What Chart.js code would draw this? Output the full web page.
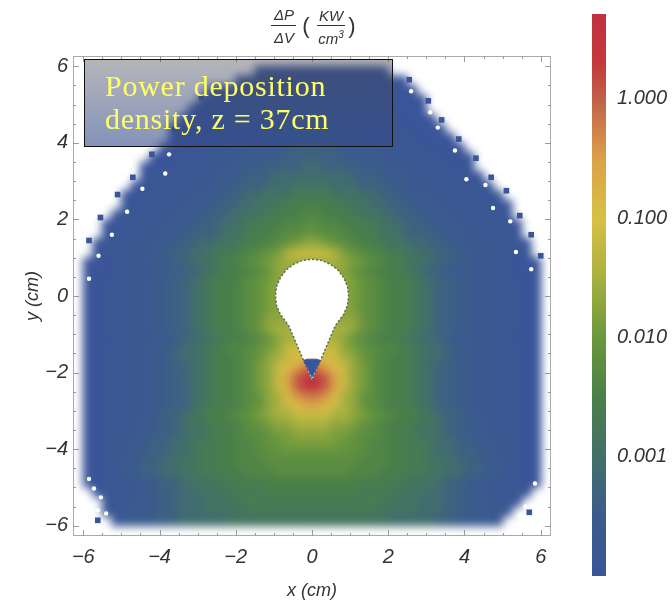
<!DOCTYPE html>
<html lang="en">
<head>
    <meta charset="UTF-8">
    <title>Power deposition density</title>
    <script src="https://cdn.jsdelivr.net/npm/chart.js@4.4.0/dist/chart.umd.min.js"></script>
    <style>
        body { margin: 0; background: #fff; width: 672px; height: 602px; overflow: hidden; position: relative; font-family: "Liberation Sans", Arial, sans-serif; color: #333; }
        canvas { position: absolute; }
        #heat { left: 73px; top: 56px; filter: blur(4px); } /* cells are 0.25 cm, soften them like the source image */
        #axes { left: 0; top: 0; }
        #bar { left: 560px; top: 0; }
        #note {
            position: absolute; left: 84px; top: 59px; width: 307px; height: 86px; border: 1px solid #111;
            background: linear-gradient(180deg, rgba(70,70,80,.4), rgba(50,75,140,.6));
            color: #ffff66; font-family: "Liberation Serif", serif; font-size: 30px; line-height: 33px; letter-spacing: .75px;
        }
        #note div { position: absolute; left: 20px; white-space: nowrap; }
        .t { position: absolute; font-style: italic; font-size: 15px; white-space: nowrap; transform: translate(-50%, -50%); }
        .r { position: absolute; height: 1px; background: #333; }
    </style>
</head>
<body>
    <canvas id="heat" width="478" height="480"></canvas>
    <canvas id="axes" width="672" height="602"></canvas>
    <canvas id="bar" width="112" height="602"></canvas>

    <div id="note"><div style="top:9px">Power deposition</div><div style="top:42px">density, z = 37cm</div></div>

    <!-- colour bar title -->
    <span class="t" style="left:284px;top:14px">ΔP</span>
    <div class="r" style="left:271px;top:25px;width:25px"></div>
    <span class="t" style="left:284px;top:37px">ΔV</span>
    <span class="t" style="left:306px;top:26px;font-size:22px;font-style:normal;font-weight:300">(</span>
    <span class="t" style="left:331px;top:15px">KW</span>
    <div class="r" style="left:317px;top:25px;width:28px"></div>
    <span class="t" style="left:331px;top:38px">cm<sup style="font-size:10px;line-height:0">3</sup></span>
    <span class="t" style="left:352px;top:26px;font-size:22px;font-style:normal;font-weight:300">)</span>

    <script>
        // Grid cell centres in cm
        const xCenters = [-5.875,-5.625,-5.375,-5.125,-4.875,-4.625,-4.375,-4.125,-3.875,-3.625,-3.375,-3.125,-2.875,-2.625,-2.375,-2.125,-1.875,-1.625,-1.375,-1.125,-0.875,-0.625,-0.375,-0.125,0.125,0.375,0.625,0.875,1.125,1.375,1.625,1.875,2.125,2.375,2.625,2.875,3.125,3.375,3.625,3.875,4.125,4.375,4.625,4.875,5.125,5.375,5.625,5.875];
        const yCenters = [5.875,5.625,5.375,5.125,4.875,4.625,4.375,4.125,3.875,3.625,3.375,3.125,2.875,2.625,2.375,2.125,1.875,1.625,1.375,1.125,0.875,0.625,0.375,0.125,-0.125,-0.375,-0.625,-0.875,-1.125,-1.375,-1.625,-1.875,-2.125,-2.375,-2.625,-2.875,-3.125,-3.375,-3.625,-3.875,-4.125,-4.375,-4.625,-4.875,-5.125,-5.375,-5.625,-5.875];

        // Letters stand for log10(power density), '.' means no data
        const levelLetters = 'abcdefghijklmnopqrstuvwx';
        const levelLogs = [-4,-3.85,-3.7,-3.55,-3.35,-3.1,-2.9,-2.7,-2.55,-2.4,-2.25,-2.1,-1.9,-1.7,-1.5,-1.2,-0.9,-0.6,-0.4,-0.2,0,0.2,0.4,0.6];

        // Values, one string per row, top row first
        const gridRows = [
            "..................aaaaaaaaaaaaaa................",
            "................aaaaaaaaaaaaaaaaaa..............",
            ".............aaaaaaabbbbbbbbaaaaaaa.............",
            "............aaaaaabbbbbbbbbbbbaaaaaa............",
            "...........aaaaabbbbbbccccbbbbbbaaaa............",
            "..........aaaaabbbbbccccccccbbbbbaaaa...........",
            ".........aaaaabbbbbcccddddcccbbbbbaaaa..........",
            ".........aaaabbbbcccddddddddcccbbbbaaaa.........",
            "........aaaabbbbcccdddeeeedddcccbbbbaaaa........",
            ".......aaabbbbcccddddeeeeeeddddcccbbbbaaa.......",
            "......aaabbbbcccdddeeeeffeeeedddcccbbbbaa.......",
            "......abbbbcccdddeeeffffffffeeedddcccbbbba......",
            ".....aabbbbcccddeeefffggggfffeeeddcccbbbbaa.....",
            "....aabbbbccdddeeffggghhhhgggffeedddccbbbbaa....",
            "....abbbbccdddeeffgghhiiiihhggffeedddccbbbbaa...",
            "...abbbbccdddeeffgghhiijjiihhggffeedddccbbbba...",
            "..aabbbccdddeeffghhiijjkkjjiihhgffeedddccbbbaa..",
            "..abbbccdddeeefgghiijkkllkkjiihggfeeedddccbbba..",
            ".abbbcccddeeffgghiijklmnnmlkjiihggffeeddcccbbba.",
            ".abbbccddeeffghhijklmoppppomlkjihhgffeeddccbbba.",
            "aaabbccddeefgghijklmnoooooonmlkjihggfeeddccbbaaa",
            "aaabbbccddeefghiijklnnnnnnnnlkjiihgfeeddccbbbaaa",
            "aabbbccddeefghiijklmnnnnnnnnmlkjiihgfeeddccbbbaa",
            "aabbbccddeefghiijklmnnnnnnnnmlkjiihgfeeddccbbbaa",
            "aabbbccddeefghiijklmnnnnnnnnmlkjiihgfeeddccbbbaa",
            "aabbbccddeefghiijklmnnnnnnnnmlkjiihgfeeddccbbbaa",
            "aabbbccddeefghiijklnnnnnnnnnnlkjiihgfeeddccbbbaa",
            "aabbbccddeefghiijklnoooooooonlkjiihgfeeddccbbbaa",
            "aaabbbccddeffghiijklnoooooonlkjiihgffeddccbbbaaa",
            "aabbbccddeffghijjklmnppppppnmlkjjihgffeddccbbbaa",
            "aabbbccddeffghiijklnopqqqqponlkjiihgffeddccbbbaa",
            "aabbbccddeefghiijkmnpqrttrqpnmkjiihgfeeddccbbbaa",
            "aabbbccddeefghiijkmnpruxxurpnmkjiihgfeeddccbbbaa",
            "aabbbccddeefghiijkmnpruxxurpnmkjiihgfeeddccbbbaa",
            "aabbbccddeefghiijklnoqsttsqonlkjiihgfeeddccbbbaa",
            "aabbbccddeefghiijklnopqrrqponlkjiihgfeeddccbbbaa",
            "aabbccddeefghiijklmnooppppoonmlkjiihgfeeddccbbaa",
            "aabbccddeefgghiijklmnnoooonnmlkjiihggfeeddccbbaa",
            "aabbccddeefgghiijkklmmnnnnmmlkkjiihggfeeddccbbaa",
            "aabccddeeffghhiijjkllmmmmmmllkjjiihhgffeeddccbaa",
            "aabccddeeffghhiijjkkllllllllkkjjiihhgffeeddccbaa",
            "aabcddeeffgghhiijjjkkkkkkkkkkjjjiihhggffeeddcbaa",
            "aabcddeeffgghhhiijjjkkkkkkkkjjjiihhhggffeeddcbaa",
            "aabbccddeefggghhhiiiiiiiiiiiiiihhhgggfeeddccbbaa",
            ".abbccddeeffggghhhhiiiiiiiiiihhhhgggffeeddccbba.",
            "..bbccddeefffggghhhhhhhhhhhhhhhhgggfffeeddccbb..",
            "..bbcdddeefffgggghhhhhhhhhhhhhhggggfffeedddcb...",
            "...bcdddeefffffgggggggggggggggggfffffeedddcb...."
        ];

        // Colour scale stops
        const scaleLogs = [-4, -3.5, -3, -2.5, -2, -1.5, -1, -0.5, 0, 0.3, 0.71];
        const scaleColors = ['#3a5598', '#3b5c8c', '#427068', '#4a8048', '#6a983c', '#a8b040', '#d8c044', '#dca048', '#c0604a', '#c4393c', '#c0323f'];
        const barMin = 0.0001;
        const barMax = 5.13;
        const barTicks = [0.001, 0.01, 0.1, 1];

        // Outline of the hole and the small blue wedge at its tip
        const holeX = [0,0.25,0.48,0.68,0.83,0.93,0.96,0.93,0.83,0.68,0.6,0.45,0.3,0.15,0,-0.15,-0.3,-0.45,-0.6,-0.68,-0.83,-0.93,-0.96,-0.93,-0.83,-0.68,-0.48,-0.25,0];
        const holeY = [0.96,0.93,0.83,0.68,0.48,0.25,0,-0.25,-0.48,-0.68,-0.8,-1.15,-1.5,-1.85,-2.2,-1.85,-1.5,-1.15,-0.8,-0.68,-0.48,-0.25,0,0.25,0.48,0.68,0.83,0.93,0.96];
        const wedgeX = [-0.22,-0.1,0.1,0.22,0,-0.22];
        const wedgeY = [-1.68,-1.65,-1.65,-1.68,-2.12,-1.68];

        // Speckle along the rough edge of the plume
        const blueSpeckX = [2.55,3.05,3.4,3.85,4.3,4.7,5.1,5.45,5.75,6.0,-2.9,-3.6,-4.2,-4.7,-5.1,-5.55,-5.85,-5.62,5.7];
        const blueSpeckY = [5.65,5.1,4.6,4.1,3.6,3.1,2.75,2.1,1.6,1.05,5.2,4.35,3.7,3.1,2.65,2.05,1.45,-5.86,-5.65];
        const whiteSpeckX = [2.6,3.1,3.3,3.75,4.05,4.55,4.75,5.2,5.35,5.75,-3.75,-3.85,-4.45,-4.85,-5.25,-5.6,-5.85,-5.85,-5.72,-5.54,-5.62,-5.4,5.85,5.6,5.45];
        const whiteSpeckY = [5.35,4.8,4.4,3.8,3.05,2.9,2.3,1.95,1.15,0.7,3.7,3.2,2.8,2.2,1.6,1.05,0.45,-4.78,-5.03,-5.26,-5.6,-5.68,-4.9,-5.5,-5.75];

        const tickValues = [-6,-5.5,-5,-4.5,-4,-3.5,-3,-2.5,-2,-1.5,-1,-0.5,0,0.5,1,1.5,2,2.5,3,3.5,4,4.5,5,5.5,6];
        const axisMin = -6.27;
        const axisMax = 6.27;

        const hexToRgb = h => [1, 3, 5].map(i => parseInt(h.slice(i, i + 2), 16));

        // log10 value -> colour along the colour bar
        const colorFor = (v) => {
            let i = 0;
            while (i < scaleLogs.length - 2 && v > scaleLogs[i + 1]) i++;
            const t = Math.min(1, Math.max(0, (v - scaleLogs[i]) / (scaleLogs[i + 1] - scaleLogs[i])));
            const a = hexToRgb(scaleColors[i]), b = hexToRgb(scaleColors[i + 1]);
            return `rgb(${a.map((c, k) => Math.round(c + (b[k] - c) * t)).join(',')})`;
        };

        const cells = [];
        const cellColors = [];
        gridRows.forEach((row, r) => {
            [...row].forEach((ch, c) => {
                const idx = levelLetters.indexOf(ch);
                if (idx < 0) return;
                cells.push({ x: xCenters[c], y: yCenters[r] });
                cellColors.push(colorFor(levelLogs[idx]));
            });
        });

        // Heat map, sits under the axes chart with the same scale range
        new Chart(document.getElementById('heat'), {
            type: 'scatter',
            data: {
                datasets: [{
                    data: cells,
                    pointStyle: 'rect',
                    pointRadius: 7.6,
                    pointBorderWidth: 0,
                    backgroundColor: cellColors
                }]
            },
            options: {
                responsive: false,
                animation: false,
                layout: { autoPadding: false },
                plugins: { legend: { display: false }, tooltip: { enabled: false } },
                scales: {
                    x: { display: false, min: axisMin, max: axisMax },
                    y: { display: false, min: axisMin, max: axisMax }
                }
            }
        });

        // Frame and inward tick marks, Mathematica style
        const frameTicks = {
            id: 'frameTicks',
            afterDatasetsDraw(chart) {
                const { ctx, chartArea: a, scales } = chart;
                ctx.save();
                ctx.strokeStyle = '#aaa';
                ctx.lineWidth = 1;
                ctx.strokeRect(a.left + 0.5, a.top + 0.5, a.width - 1, a.height - 1);
                ctx.strokeStyle = '#999';
                ctx.beginPath();
                tickValues.forEach(v => {
                    const len = v % 2 === 0 ? 6 : 3;
                    const px = Math.round(scales.x.getPixelForValue(v)) + 0.5;
                    const py = Math.round(scales.y.getPixelForValue(v)) + 0.5;
                    ctx.moveTo(px, a.bottom); ctx.lineTo(px, a.bottom - len);
                    ctx.moveTo(px, a.top); ctx.lineTo(px, a.top + len);
                    ctx.moveTo(a.left, py); ctx.lineTo(a.left + len, py);
                    ctx.moveTo(a.right, py); ctx.lineTo(a.right - len, py);
                });
                ctx.stroke();
                ctx.restore();
            }
        };

        const tickLabel = v => (v % 2 === 0 ? String(v).replace('-', '\u2212') : '');
        const fontFamily = '"Liberation Sans", Arial, sans-serif';
        const axisFont = { family: fontFamily, size: 20, style: 'italic' };
        const titleFont = { family: fontFamily, size: 18, style: 'italic' };
        const setTicks = s => { s.ticks = tickValues.map(v => ({ value: v })); };
        const pairs = (xs, ys) => xs.map((x, i) => ({ x, y: ys[i] }));

        new Chart(document.getElementById('axes'), {
            type: 'scatter',
            data: {
                datasets: [
                    {
                        data: pairs(holeX, holeY),
                        showLine: true,
                        fill: 'shape',
                        backgroundColor: '#fff',
                        borderColor: '#5a6b55',
                        borderWidth: 1.5,
                        borderDash: [2, 2],
                        pointRadius: 0,
                        order: 2
                    },
                    {
                        data: pairs(wedgeX, wedgeY),
                        showLine: true,
                        fill: 'shape',
                        backgroundColor: '#3a5598',
                        borderColor: '#3a5598',
                        borderWidth: 1,
                        pointRadius: 0,
                        order: 1
                    },
                    {
                        data: pairs(blueSpeckX, blueSpeckY),
                        pointStyle: 'rect',
                        pointRadius: 4,
                        pointBorderWidth: 0,
                        backgroundColor: '#3a5598',
                        order: 3
                    },
                    {
                        data: pairs(whiteSpeckX, whiteSpeckY),
                        pointStyle: 'circle',
                        pointRadius: 2.2,
                        pointBorderWidth: 0,
                        backgroundColor: '#fff',
                        order: 3
                    }
                ]
            },
            options: {
                responsive: false,
                animation: false,
                layout: { autoPadding: false, padding: { left: 0, top: 56, right: 121, bottom: 0 } },
                plugins: { legend: { display: false }, tooltip: { enabled: false } },
                scales: {
                    x: {
                        min: axisMin, max: axisMax,
                        afterBuildTicks: setTicks,
                        afterFit: s => { s.height = 66; },
                        grid: { display: false, drawTicks: false },
                        border: { display: false },
                        ticks: { color: '#333', font: axisFont, autoSkip: false, maxRotation: 0, padding: 9, callback: tickLabel },
                        title: { display: true, text: 'x (cm)', color: '#333', font: titleFont, padding: { top: 0, bottom: 0 } }
                    },
                    y: {
                        min: axisMin, max: axisMax,
                        afterBuildTicks: setTicks,
                        afterFit: s => { s.width = 73; },
                        grid: { display: false, drawTicks: false },
                        border: { display: false },
                        ticks: { color: '#333', font: axisFont, autoSkip: false, padding: 5, callback: tickLabel },
                        title: { display: true, text: 'y (cm)', color: '#333', font: titleFont, padding: { top: 22, bottom: 0 } }
                    }
                }
            },
            plugins: [frameTicks]
        });

        // Colour bar as one floating bar on a log axis
        new Chart(document.getElementById('bar'), {
            type: 'bar',
            data: {
                labels: [''],
                datasets: [{
                    data: [[barMin, barMax]],
                    barPercentage: 1,
                    categoryPercentage: 1,
                    backgroundColor: (c) => {
                        const a = c.chart.chartArea;
                        if (!a) return scaleColors[0];
                        const g = c.chart.ctx.createLinearGradient(0, a.bottom, 0, a.top);
                        scaleLogs.forEach((v, i) => g.addColorStop((v - scaleLogs[0]) / (scaleLogs[scaleLogs.length - 1] - scaleLogs[0]), scaleColors[i]));
                        return g;
                    }
                }]
            },
            options: {
                responsive: false,
                animation: false,
                layout: { padding: { left: 32, top: 14, right: 0, bottom: 26 } },
                plugins: { legend: { display: false }, tooltip: { enabled: false } },
                scales: {
                    x: { display: false },
                    y: {
                        type: 'logarithmic',
                        position: 'right',
                        min: barMin, max: barMax,
                        afterBuildTicks: s => { s.ticks = barTicks.map(v => ({ value: v, major: true })); },
                        afterFit: s => { s.width = 66; s.paddingTop = 0; s.paddingBottom = 0; },
                        grid: { display: false, drawTicks: false },
                        border: { display: false },
                        ticks: { color: '#333', font: axisFont, padding: 11, autoSkip: false, callback: v => v.toFixed(3) }
                    }
                }
            }
        });
    </script>
</body>
</html>
